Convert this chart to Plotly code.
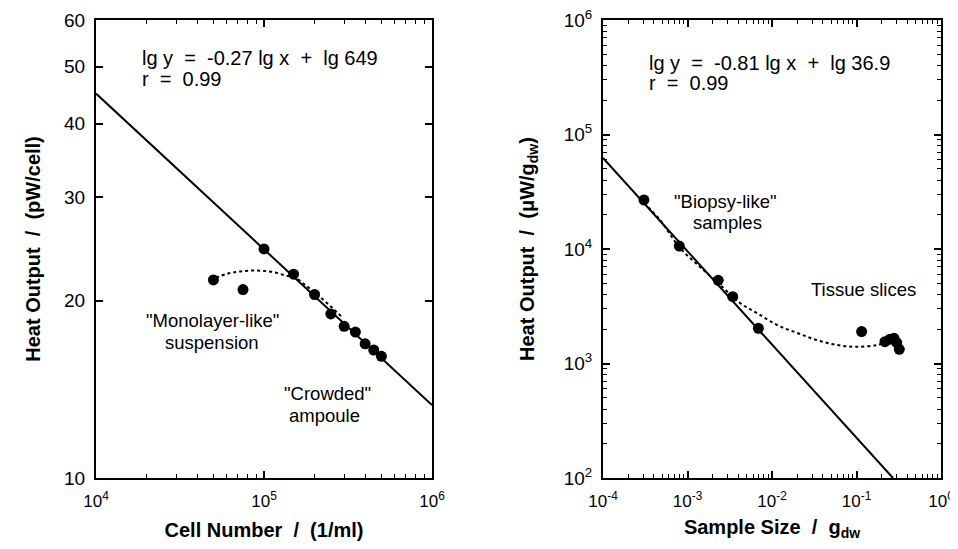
import numpy as np
import plotly.graph_objects as go

# left panel: cell suspensions
cell_number = [5.0e4, 7.5e4, 1.0e5, 1.5e5, 2.0e5, 2.5e5, 3.0e5, 3.5e5, 4.0e5, 4.5e5, 5.0e5]
heat_per_cell = [21.7, 20.9, 24.5, 22.2, 20.5, 19.0, 18.1, 17.7, 16.9, 16.5, 16.1]
cell_fit_x = [1e4, 1e6]
cell_fit_y = [45.0, 13.3]
cell_curve_x = [5.18e4, 5.94e4, 6.91e4, 8.03e4, 9.46e4, 1.116e5, 1.333e5, 1.53e5,
                1.753e5, 1.985e5, 2.245e5, 2.575e5, 2.953e5]
cell_curve_y = [21.9, 22.2, 22.4, 22.5, 22.5, 22.4, 22.1, 21.9, 21.3, 20.7, 20.1, 19.4, 18.7]

# right panel: tissue samples
sample_size = [3.05e-4, 8.0e-4, 2.31e-3, 3.43e-3, 6.9e-3, 0.115, 0.217, 0.249, 0.278, 0.299, 0.321]
heat_per_mass = [26800, 10600, 5330, 3830, 2030, 1900, 1550, 1630, 1660, 1520, 1330]
tissue_fit_x = [1e-4, 0.27]
tissue_fit_y = [62400, 100]
tissue_curve_x = [3.05e-4, 4.73e-4, 8.15e-4, 1.41e-3, 2.30e-3, 4.18e-3, 6.64e-3, 0.01146,
                  0.0198, 0.0341, 0.0588, 0.1014, 0.175, 0.230]
tissue_curve_y = [25200, 17900, 10200, 6960, 5050, 3380, 2760, 2170, 1850, 1600, 1450,
                  1400, 1450, 1540]

left_y_ticks = [10, 20, 30, 40, 50, 60]
left_x_ticks = [1e4, 1e5, 1e6]
left_x_text = ["10<sup>4</sup>", "10<sup>5</sup>", "10<sup>6</sup>"]
right_x_ticks = [1e-4, 1e-3, 1e-2, 1e-1, 1e0]
right_x_text = ["10<sup>-4</sup>", "10<sup>-3</sup>", "10<sup>-2</sup>", "10<sup>-1</sup>", "10<sup>0</sup>"]
right_y_ticks = [1e2, 1e3, 1e4, 1e5, 1e6]
right_y_text = ["10<sup>2</sup>", "10<sup>3</sup>", "10<sup>4</sup>", "10<sup>5</sup>", "10<sup>6</sup>"]

# page body has an 8px margin; the figure starts at (8, 8) in the window
OFF = 8
W, H = 958 - OFF, 549 - 2 * OFF
FONT = "Liberation Sans, Arial, sans-serif"
SP = "\u00a0"


def fx(px):
    return (px - OFF) / W


def fy(py):
    return 1 - (py - OFF) / H


def minor_vals(lo, hi):
    return [m * 10.0 ** e for e in range(lo, hi) for m in range(2, 10)]


fig = go.Figure()

# left panel traces
fig.add_trace(go.Scatter(x=cell_fit_x, y=cell_fit_y, mode="lines",
                         line=dict(color="black", width=2), xaxis="x", yaxis="y"))
fig.add_trace(go.Scatter(x=cell_curve_x, y=cell_curve_y, mode="lines",
                         line=dict(color="black", width=2, dash="dot", shape="spline"),
                         xaxis="x", yaxis="y"))
fig.add_trace(go.Scatter(x=cell_number, y=heat_per_cell, mode="markers",
                         marker=dict(color="black", size=11), xaxis="x", yaxis="y"))

# right panel traces
fig.add_trace(go.Scatter(x=tissue_fit_x, y=tissue_fit_y, mode="lines",
                         line=dict(color="black", width=2), xaxis="x2", yaxis="y2"))
fig.add_trace(go.Scatter(x=tissue_curve_x, y=tissue_curve_y, mode="lines",
                         line=dict(color="black", width=2, dash="dot", shape="spline"),
                         xaxis="x2", yaxis="y2"))
fig.add_trace(go.Scatter(x=sample_size, y=heat_per_mass, mode="markers",
                         marker=dict(color="black", size=11), xaxis="x2", yaxis="y2"))

# empty traces so the mirrored tick axes get drawn
for xa, ya in [("x3", "y"), ("x", "y3"), ("x4", "y2"), ("x2", "y4")]:
    fig.add_trace(go.Scatter(x=[], y=[], xaxis=xa, yaxis=ya, hoverinfo="skip"))

axis_common = dict(
    type="log", showgrid=False, zeroline=False, showline=True, linecolor="black",
    linewidth=2, mirror=True, ticks="inside", ticklen=7, tickwidth=1.5,
    tickcolor="black", automargin=False, ticklabeloverflow="allow",
)
x_tickfont = dict(family=FONT, size=17, color="black")
y_tickfont = dict(family=FONT, size=19, color="black")
mirror_common = dict(
    type="log", showgrid=False, zeroline=False, showline=False, ticks="inside",
    ticklen=7, tickwidth=1.5, tickcolor="black", showticklabels=False, automargin=False,
)
minor_common = dict(ticks="inside", ticklen=4, tickwidth=1, tickcolor="black")
title_font = dict(family=FONT, size=20, color="black")

xdom1 = [fx(96), fx(432)]
xdom2 = [fx(603), fx(941)]
ydom = [fy(478), fy(20)]
left_minor_x = minor_vals(4, 6)
right_minor_x = minor_vals(-4, 0)
right_minor_y = minor_vals(2, 6)
left_y_range = [1, np.log10(60)]

fig.update_layout(
    width=W, height=H, margin=dict(l=0, r=0, t=0, b=0),
    paper_bgcolor="white", plot_bgcolor="white", showlegend=False,
    xaxis=dict(axis_common, domain=xdom1, range=[4, 6], tickfont=x_tickfont,
               tickvals=left_x_ticks, ticktext=left_x_text, ticklabelstandoff=7,
               minor=dict(minor_common, tickvals=left_minor_x),
               title=dict(text=f"<b>Cell Number{SP}{SP}/{SP}{SP}(1/ml)</b>", font=title_font, standoff=14)),
    yaxis=dict(axis_common, domain=ydom, range=left_y_range, tickfont=y_tickfont,
               tickvals=left_y_ticks, ticktext=[str(v) for v in left_y_ticks], ticklabelstandoff=5,
               title=dict(text=f"<b>Heat Output{SP}{SP}/{SP}{SP}(pW/cell)</b>", font=title_font, standoff=18)),
    xaxis2=dict(axis_common, domain=xdom2, range=[-4, 0], anchor="y2", tickfont=x_tickfont,
                tickvals=right_x_ticks, ticktext=right_x_text, ticklabelstandoff=7,
                minor=dict(minor_common, tickvals=right_minor_x),
                title=dict(text=f"<b>Sample Size{SP}{SP}/{SP}{SP}g<sub>dw</sub></b>", font=title_font, standoff=12)),
    yaxis2=dict(axis_common, domain=ydom, range=[2, 6], anchor="x2", tickfont=y_tickfont,
                tickvals=right_y_ticks, ticktext=right_y_text, ticklabelstandoff=5,
                minor=dict(minor_common, tickvals=right_minor_y),
                title=dict(text=f"<b>Heat Output{SP}{SP}/{SP}{SP}(\u03bcW/g<sub>dw</sub>)</b>", font=title_font, standoff=24)),
    # mirrored tick axes (top / right)
    xaxis3=dict(mirror_common, domain=xdom1, range=[4, 6], overlaying="x", side="top", anchor="y",
                tickvals=left_x_ticks, minor=dict(minor_common, tickvals=left_minor_x)),
    yaxis3=dict(mirror_common, domain=ydom, range=left_y_range, overlaying="y", side="right",
                anchor="x", tickvals=left_y_ticks),
    xaxis4=dict(mirror_common, domain=xdom2, range=[-4, 0], overlaying="x2", side="top", anchor="y2",
                tickvals=right_x_ticks, minor=dict(minor_common, tickvals=right_minor_x)),
    yaxis4=dict(mirror_common, domain=ydom, range=[2, 6], overlaying="y2", side="right", anchor="x2",
                tickvals=right_y_ticks, minor=dict(minor_common, tickvals=right_minor_y)),
)

eq_font = dict(family=FONT, size=20, color="black")
lab_font = dict(family=FONT, size=18.5, color="black")
eq = f"{SP}{SP}={SP}{SP}"
notes = [
    (140, 58, f"lg y{eq}-0.27 lg x{SP}{SP}+{SP}{SP}lg 649", "left", eq_font),
    (140, 79, f"r{eq}0.99", "left", eq_font),
    (647, 63, f"lg y{eq}-0.81 lg x{SP}{SP}+{SP}{SP}lg 36.9", "left", eq_font),
    (647, 83, f"r{eq}0.99", "left", eq_font),
    (212, 320, "\"Monolayer-like\"", "center", lab_font),
    (212, 342, "suspension", "center", lab_font),
    (327, 393, "\"Crowded\"", "center", lab_font),
    (324, 415, "ampoule", "center", lab_font),
    (725, 201, "\"Biopsy-like\"", "center", lab_font),
    (727, 222, "samples", "center", lab_font),
    (863, 289, "Tissue slices", "center", lab_font),
]
for px, py, text, align, font in notes:
    fig.add_annotation(x=fx(px), y=fy(py), xref="paper", yref="paper", text=text, showarrow=False,
                       xanchor=align, yanchor="middle", font=font)

fig.write_html("out.html")
